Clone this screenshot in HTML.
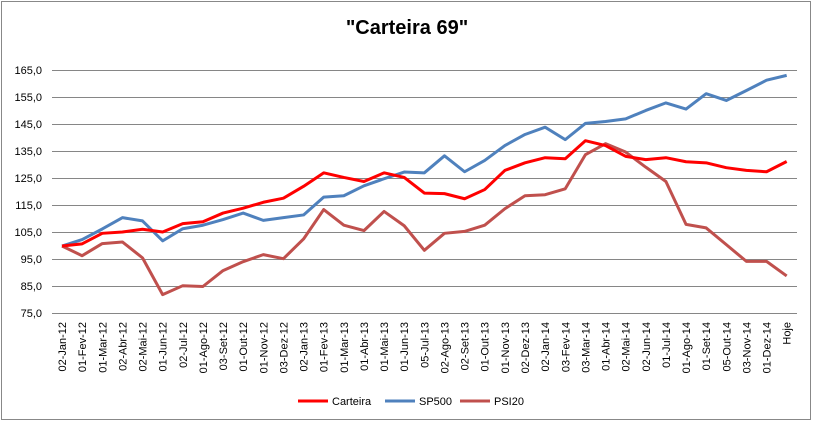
<!DOCTYPE html>
<html><head><meta charset="utf-8"><style>
body{margin:0;background:#fff;}
svg{display:block;font-family:"Liberation Sans",sans-serif;}
</style></head><body>
<svg width="813" height="422" viewBox="0 0 813 422">
<rect x="1.5" y="1.5" width="809" height="418" fill="#fff" stroke="#888" stroke-width="1"/>
<text x="407" y="34" text-anchor="middle" font-size="20" font-weight="bold">"Carteira 69"</text>
<g stroke="#868686" stroke-width="1">
<line x1="52" x2="797" y1="70.5" y2="70.5"/>
<line x1="52" x2="797" y1="97.5" y2="97.5"/>
<line x1="52" x2="797" y1="124.5" y2="124.5"/>
<line x1="52" x2="797" y1="151.5" y2="151.5"/>
<line x1="52" x2="797" y1="178.5" y2="178.5"/>
<line x1="52" x2="797" y1="205.5" y2="205.5"/>
<line x1="52" x2="797" y1="232.5" y2="232.5"/>
<line x1="52" x2="797" y1="259.5" y2="259.5"/>
<line x1="52" x2="797" y1="286.5" y2="286.5"/>
<line x1="52" x2="797" y1="313.5" y2="313.5"/>
</g>
<g font-size="11" text-anchor="end" fill="#000">
<text x="42" y="74">165,0</text>
<text x="42" y="101">155,0</text>
<text x="42" y="128">145,0</text>
<text x="42" y="155">135,0</text>
<text x="42" y="182">125,0</text>
<text x="42" y="209">115,0</text>
<text x="42" y="236">105,0</text>
<text x="42" y="263">95,0</text>
<text x="42" y="290">85,0</text>
<text x="42" y="317">75,0</text>
</g>
<g fill="none" stroke-width="3" stroke-linejoin="round" transform="translate(62,313.5) scale(20.13,-2.7) translate(0,-75)">
<polyline vector-effect="non-scaling-stroke" stroke="#C0504D" points="0,100 1,96.4 2,100.9 3,101.5 4,95.6 5,82 6,85.3 7,85 8,90.9 9,94.2 10,96.8 11,95.3 12,102.6 13,113.5 14,107.7 15,105.7 16,112.8 17,107.5 18,98.4 19,104.7 20,105.4 21,107.7 22,113.8 23,118.6 24,119 25,121.2 26,133.8 27,137.9 28,134.8 29,129.2 30,123.9 31,108 32,106.7 33,100.5 34,94.3 35,94.3 36,88.9"/>
<polyline vector-effect="non-scaling-stroke" stroke="#4F81BD" points="0,100 1,102.4 2,106.3 3,110.5 4,109.3 5,101.9 6,106.4 7,107.7 8,109.8 9,112.2 10,109.5 11,110.5 12,111.5 13,118.1 14,118.6 15,122.3 16,124.9 17,127.4 18,127.1 19,133.4 20,127.5 21,131.7 22,137.2 23,141.3 24,144 25,139.4 26,145.4 27,146.1 28,147.1 29,150.2 30,153 31,150.7 32,156.4 33,153.9 34,157.6 35,161.4 36,163.2"/>
<polyline vector-effect="non-scaling-stroke" stroke="#FF0000" points="0,100 1,100.8 2,104.7 3,105.2 4,106.2 5,105.2 6,108.3 7,109 8,112.2 9,114 10,116.2 11,117.7 12,122.1 13,127.1 14,125.4 15,123.9 16,127.1 17,125.4 18,119.6 19,119.4 20,117.5 21,120.9 22,128 23,130.8 24,132.7 25,132.3 26,139 27,137.2 28,133.2 29,132 30,132.7 31,131.2 32,130.8 33,129 34,128 35,127.5 36,131.3"/>
</g>
<g font-size="11" text-anchor="end" fill="#000">
<text transform="translate(66,322) rotate(-90)">02-Jan-12</text>
<text transform="translate(86.1,322) rotate(-90)">01-Fev-12</text>
<text transform="translate(106.3,322) rotate(-90)">01-Mar-12</text>
<text transform="translate(126.4,322) rotate(-90)">02-Abr-12</text>
<text transform="translate(146.5,322) rotate(-90)">02-Mai-12</text>
<text transform="translate(166.7,322) rotate(-90)">01-Jun-12</text>
<text transform="translate(186.8,322) rotate(-90)">02-Jul-12</text>
<text transform="translate(206.9,322) rotate(-90)">01-Ago-12</text>
<text transform="translate(227,322) rotate(-90)">03-Set-12</text>
<text transform="translate(247.2,322) rotate(-90)">01-Out-12</text>
<text transform="translate(267.3,322) rotate(-90)">01-Nov-12</text>
<text transform="translate(287.4,322) rotate(-90)">03-Dez-12</text>
<text transform="translate(307.6,322) rotate(-90)">02-Jan-13</text>
<text transform="translate(327.7,322) rotate(-90)">01-Fev-13</text>
<text transform="translate(347.8,322) rotate(-90)">01-Mar-13</text>
<text transform="translate(368,322) rotate(-90)">01-Abr-13</text>
<text transform="translate(388.1,322) rotate(-90)">01-Mai-13</text>
<text transform="translate(408.2,322) rotate(-90)">01-Jun-13</text>
<text transform="translate(428.3,322) rotate(-90)">05-Jul-13</text>
<text transform="translate(448.5,322) rotate(-90)">02-Ago-13</text>
<text transform="translate(468.6,322) rotate(-90)">02-Set-13</text>
<text transform="translate(488.7,322) rotate(-90)">01-Out-13</text>
<text transform="translate(508.9,322) rotate(-90)">01-Nov-13</text>
<text transform="translate(529,322) rotate(-90)">02-Dez-13</text>
<text transform="translate(549.1,322) rotate(-90)">02-Jan-14</text>
<text transform="translate(569.3,322) rotate(-90)">03-Fev-14</text>
<text transform="translate(589.4,322) rotate(-90)">03-Mar-14</text>
<text transform="translate(609.5,322) rotate(-90)">01-Abr-14</text>
<text transform="translate(629.6,322) rotate(-90)">02-Mai-14</text>
<text transform="translate(649.8,322) rotate(-90)">02-Jun-14</text>
<text transform="translate(669.9,322) rotate(-90)">01-Jul-14</text>
<text transform="translate(690,322) rotate(-90)">01-Ago-14</text>
<text transform="translate(710.2,322) rotate(-90)">01-Set-14</text>
<text transform="translate(730.3,322) rotate(-90)">05-Out-14</text>
<text transform="translate(750.4,322) rotate(-90)">03-Nov-14</text>
<text transform="translate(770.6,322) rotate(-90)">01-Dez-14</text>
<text transform="translate(790.7,322) rotate(-90)">Hoje</text>
</g>
<g stroke-width="3">
<line x1="298" x2="328" y1="401" y2="401" stroke="#FF0000"/>
<line x1="385" x2="415" y1="401" y2="401" stroke="#4F81BD"/>
<line x1="460" x2="490" y1="401" y2="401" stroke="#C0504D"/>
</g>
<g font-size="11" fill="#000">
<text x="332" y="405">Carteira</text>
<text x="419" y="405">SP500</text>
<text x="494" y="405">PSI20</text>
</g>
</svg>
</body></html>
